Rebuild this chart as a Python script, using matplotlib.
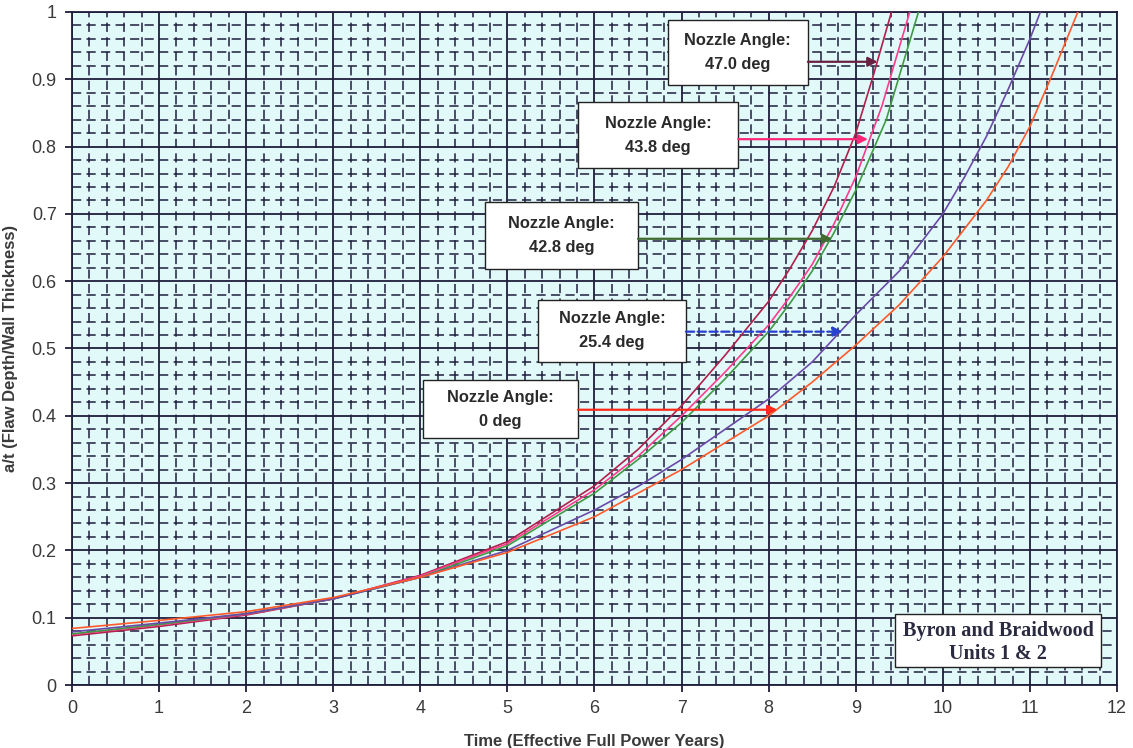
import matplotlib
matplotlib.use("Agg")
import matplotlib.pyplot as plt
from matplotlib.patches import Rectangle
from matplotlib.ticker import MultipleLocator, FormatStrFormatter

# Flaw growth curves: a/t versus effective full power years, per nozzle angle
t_470 = [0, 1, 2, 3, 4, 5, 6, 6.5, 7, 7.5, 8, 8.25, 8.5, 8.75, 9, 9.2, 9.41]
a_470 = [0.073, 0.087, 0.104, 0.128, 0.163, 0.213, 0.296, 0.35, 0.415, 0.49, 0.57, 0.62, 0.675, 0.74, 0.82, 0.905, 1.0]

t_438 = [0, 1, 2, 3, 4, 5, 6, 6.5, 7, 7.5, 8, 8.25, 8.5, 8.75, 9, 9.3, 9.62]
a_438 = [0.075, 0.089, 0.105, 0.128, 0.162, 0.21, 0.29, 0.34, 0.40, 0.465, 0.535, 0.578, 0.625, 0.685, 0.755, 0.86, 1.0]

t_428 = [0, 1, 2, 3, 4, 5, 6, 6.5, 7, 7.5, 8, 8.25, 8.5, 8.75, 9, 9.35, 9.72]
a_428 = [0.076, 0.09, 0.106, 0.128, 0.16, 0.207, 0.285, 0.335, 0.39, 0.455, 0.525, 0.568, 0.615, 0.672, 0.735, 0.84, 1.0]

t_254 = [0, 1, 2, 3, 4, 5, 6, 6.5, 7, 7.5, 8, 8.5, 9, 9.5, 10, 10.25, 10.5, 10.75, 11, 11.12]
a_254 = [0.079, 0.092, 0.106, 0.128, 0.16, 0.2, 0.26, 0.295, 0.335, 0.38, 0.425, 0.48, 0.55, 0.615, 0.70, 0.755, 0.815, 0.885, 0.96, 1.0]

t_000 = [0, 1, 2, 3, 4, 5, 6, 6.5, 7, 7.5, 8, 8.5, 9, 9.5, 10, 10.5, 10.75, 11, 11.25, 11.55]
a_000 = [0.084, 0.096, 0.109, 0.13, 0.16, 0.197, 0.25, 0.285, 0.32, 0.36, 0.40, 0.45, 0.505, 0.565, 0.636, 0.72, 0.77, 0.83, 0.905, 1.0]

# Callout labels and the point on each curve they point to
labels = ["Nozzle Angle:\n47.0 deg", "Nozzle Angle:\n43.8 deg", "Nozzle Angle:\n42.8 deg",
          "Nozzle Angle:\n25.4 deg", "Nozzle Angle:\n0 deg"]
arrow_x = [9.25, 9.14, 8.73, 8.85, 8.10]
arrow_y = [0.926, 0.811, 0.663, 0.525, 0.409]

curve_colors = ["#b0204c", "#ff3c8c", "#3f9a45", "#6a4aa8", "#ff5a2c"]
arrow_colors = ["#6a2040", "#ff2878", "#3f6a30", "#2840d0", "#ff2a1a"]
arrow_styles = ["-", "-", "-", "--", "-"]

# Box geometry (data units): left, bottom, width, height
boxes = [(6.84, 0.892, 1.61, 0.096),
         (5.81, 0.768, 1.84, 0.098),
         (4.74, 0.618, 1.76, 0.100),
         (5.35, 0.480, 1.70, 0.092),
         (4.03, 0.367, 1.78, 0.086)]

fig = plt.figure(figsize=(11.33, 7.48), dpi=100)
ax = fig.add_axes([0.0635, 0.0842, 0.9224, 0.8998])
ax.set_facecolor("#e2f9f9")

ax.set_xlim(0, 12)
ax.set_ylim(0, 1)
ax.xaxis.set_major_locator(MultipleLocator(1))
ax.xaxis.set_minor_locator(MultipleLocator(0.2))
ax.yaxis.set_major_locator(MultipleLocator(0.1))
ax.yaxis.set_minor_locator(MultipleLocator(0.02))
ax.yaxis.set_major_formatter(FormatStrFormatter("%g"))

grid_c = "#1e1e3c"
ax.grid(which="major", color=grid_c, linewidth=1.3, linestyle="-")
ax.grid(which="minor", color=grid_c, linewidth=1.1, linestyle=(0, (6, 3.5)))
ax.set_axisbelow(True)

ax.tick_params(which="major", direction="out", length=5, width=1.3, color=grid_c,
               labelsize=13, labelcolor="#3a3a3a", pad=6)
ax.tick_params(which="minor", length=0)
for s in ax.spines.values():
    s.set_color(grid_c)
    s.set_linewidth(1.3)

series = [(t_470, a_470), (t_438, a_438), (t_428, a_428), (t_254, a_254), (t_000, a_000)]
for (tx, ay), c in zip(series, curve_colors):
    ax.plot(tx, ay, color=c, linewidth=1.2, zorder=3, clip_on=True)

for lab, bx, ax_, ay_, ac, ls in zip(labels, boxes, arrow_x, arrow_y, arrow_colors, arrow_styles):
    x0, y0, w, h = bx
    ax.add_patch(Rectangle((x0, y0), w, h, facecolor="white", edgecolor="#222222",
                           linewidth=1.0, zorder=4))
    ax.text(x0 + w / 2, y0 + h / 2, lab, ha="center", va="center", fontsize=11.8,
            fontweight="bold", family="Liberation Sans", color="#2a2a2a",
            linespacing=1.75, zorder=5)
    ax.annotate("", xy=(ax_, ay_), xytext=(x0 + w, ay_),
                arrowprops=dict(arrowstyle="-|>", color=ac, lw=1.6, linestyle=ls,
                                mutation_scale=14, shrinkA=0, shrinkB=0),
                zorder=5)

ax.add_patch(Rectangle((9.45, 0.027), 2.37, 0.079, facecolor="white", edgecolor="#222222",
                       linewidth=1.0, zorder=4))
ax.text(9.45 + 2.37 / 2, 0.027 + 0.079 / 2 - 0.003, "Byron and Braidwood\nUnits 1 & 2",
        ha="center", va="center", fontsize=14.5, fontweight="bold",
        family="Liberation Serif", color="#2a2a40", linespacing=1.2, zorder=5)

ax.set_xlabel("Time (Effective Full Power Years)", fontsize=12, fontweight="bold",
              family="Liberation Sans", color="#3a3a3a", labelpad=12)
ax.set_ylabel("a/t (Flaw Depth/Wall Thickness)", fontsize=12, fontweight="bold",
              family="Liberation Sans", color="#3a3a3a")
ax.yaxis.set_label_coords(-0.052, 0.5)
for lbl in ax.get_xticklabels() + ax.get_yticklabels():
    lbl.set_family("Liberation Sans")

fig.savefig("out.png", dpi=100)
